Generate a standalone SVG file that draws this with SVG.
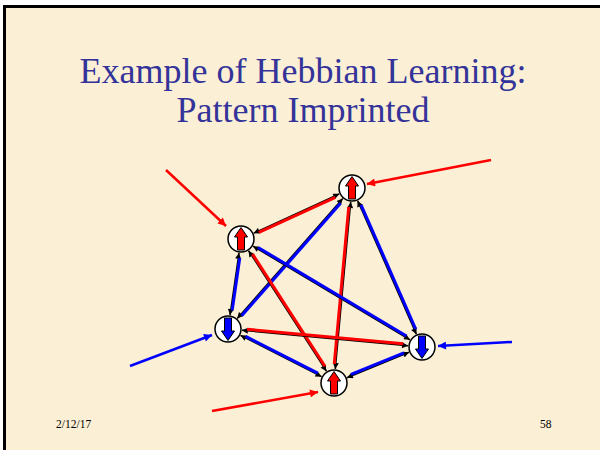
<svg xmlns="http://www.w3.org/2000/svg" width="600" height="450" viewBox="0 0 600 450">
<defs>
<style>
.title{font-family:"Liberation Serif","Times New Roman",serif;font-size:36px;fill:#333399;text-anchor:middle}
.foot{font-family:"Liberation Serif","Times New Roman",serif;font-size:11.5px;fill:#000}
.blk{stroke:#000;stroke-width:1.5;fill:none;marker-start:url(#mb);marker-end:url(#mb)}
.red{stroke:#FF0000;stroke-width:3;fill:none}
.blu{stroke:#0000FF;stroke-width:3;fill:none}
.inR{stroke:#FF0000;stroke-width:2.5;fill:none;marker-end:url(#mr)}
.inB{stroke:#0000FF;stroke-width:2.5;fill:none;marker-end:url(#mbl)}
.node{fill:#fff;stroke:#000;stroke-width:1.5}
.up{fill:#FF0000;stroke:#000;stroke-width:1}
.dn{fill:#0000FF;stroke:#000;stroke-width:1}
</style>
<marker id="mb" viewBox="0 0 10 10" refX="10" refY="5" markerWidth="7" markerHeight="6" markerUnits="userSpaceOnUse" orient="auto-start-reverse"><path d="M0,0 L10,5 L0,10 Z" fill="#000"/></marker>
<marker id="mr" viewBox="0 0 10 10" refX="10" refY="5" markerWidth="9" markerHeight="8" markerUnits="userSpaceOnUse" orient="auto"><path d="M0,0 L10,5 L0,10 Z" fill="#FF0000"/></marker>
<marker id="mbl" viewBox="0 0 10 10" refX="10" refY="5" markerWidth="9" markerHeight="8" markerUnits="userSpaceOnUse" orient="auto"><path d="M0,0 L10,5 L0,10 Z" fill="#0000FF"/></marker>
<path id="arrowShape" d="M-3.5,11 L3.5,11 L3.5,-2 L6.5,-2 L0,-11.5 L-6.5,-2 L-3.5,-2 Z"/>
</defs>
<rect x="0" y="0" width="600" height="450" fill="#fff"/>
<rect x="3" y="5" width="597" height="445" fill="#000"/>
<rect x="6" y="8" width="594" height="442" fill="#FBEFD5"/>
<text class="title" x="303" y="83">Example of Hebbian Learning:</text>
<text class="title" x="303" y="122">Pattern Imprinted</text>
<text class="foot" x="56" y="428">2/12/17</text>
<text class="foot" x="540" y="428">58</text>
<g id="connectors">
<g transform="translate(352,188) rotate(155.32)"><line class="blk" x1="14" y1="0" x2="108.2" y2="0"/><line class="red" x1="19" y1="-1.5" x2="103.2" y2="-1.5"/></g>
<g transform="translate(352,188) rotate(131.33)"><line class="blk" x1="14" y1="0" x2="173.8" y2="0"/><line class="blu" x1="19" y1="-1.5" x2="168.8" y2="-1.5"/></g>
<g transform="translate(352,188) rotate(66.24)"><line class="blk" x1="14" y1="0" x2="159.7" y2="0"/><line class="blu" x1="19" y1="-1.5" x2="154.7" y2="-1.5"/></g>
<g transform="translate(352,188) rotate(95.27)"><line class="blk" x1="14" y1="0" x2="181.8" y2="0"/><line class="red" x1="19" y1="1.5" x2="176.8" y2="1.5"/></g>
<g transform="translate(241,239) rotate(98.22)"><line class="blk" x1="14" y1="0" x2="76.9" y2="0"/><line class="blu" x1="19" y1="-1.5" x2="71.9" y2="-1.5"/></g>
<g transform="translate(241,239) rotate(30.83)"><line class="blk" x1="14" y1="0" x2="196.8" y2="0"/><line class="blu" x1="19" y1="-1.5" x2="191.8" y2="-1.5"/></g>
<g transform="translate(241,239) rotate(57.14)"><line class="blk" x1="14" y1="0" x2="157.4" y2="0"/><line class="red" x1="19" y1="-1.5" x2="152.4" y2="-1.5"/></g>
<g transform="translate(228,329) rotate(5.30)"><line class="blk" x1="14" y1="0" x2="180.8" y2="0"/><line class="red" x1="19" y1="-1.5" x2="175.8" y2="-1.5"/></g>
<g transform="translate(228,329) rotate(27.00)"><line class="blk" x1="14" y1="0" x2="105" y2="0"/><line class="blu" x1="19" y1="-1.5" x2="100" y2="-1.5"/></g>
<g transform="translate(422,347) rotate(157.75)"><line class="blk" x1="14" y1="0" x2="81.1" y2="0"/><line class="blu" x1="19" y1="1.5" x2="76.1" y2="1.5"/></g>
<line class="inR" x1="166" y1="170" x2="226" y2="226"/>
<line class="inR" x1="491" y1="160" x2="367" y2="184"/>
<line class="inB" x1="130" y1="366" x2="212" y2="335"/>
<line class="inB" x1="512" y1="342" x2="438" y2="346"/>
<line class="inR" x1="212" y1="411" x2="318" y2="392"/>
</g>
<g id="nodeA" transform="translate(352,188)"><circle class="node" r="13"/><use href="#arrowShape" class="up"/></g>
<g id="nodeB" transform="translate(241,239)"><circle class="node" r="13"/><use href="#arrowShape" class="up"/></g>
<g id="nodeC" transform="translate(228,329)"><circle class="node" r="13"/><use href="#arrowShape" class="dn" transform="rotate(180)"/></g>
<g id="nodeD" transform="translate(422,347)"><circle class="node" r="13"/><use href="#arrowShape" class="dn" transform="rotate(180)"/></g>
<g id="nodeE" transform="translate(334,383)"><circle class="node" r="13"/><use href="#arrowShape" class="up"/></g>
</svg>
